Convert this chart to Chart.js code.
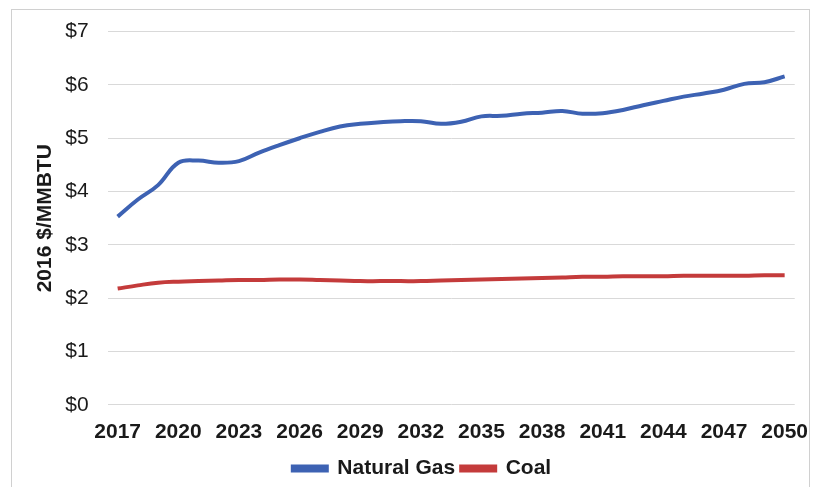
<!DOCTYPE html>
<html>
<head>
<meta charset="utf-8">
<script src="https://cdn.jsdelivr.net/npm/chart.js@4.4.0/dist/chart.umd.min.js"></script>
<style>
  html, body { margin: 0; padding: 0; background: #fff; }
  #frame { position: absolute; left: 11px; top: 9px; width: 797px; height: 490px; border: 1px solid #d0d0d0; }
  #wrap { position: absolute; left: 0; top: 0; width: 815px; height: 487px; }
</style>
</head>
<body>
<div id="frame"></div>
<div id="wrap"><canvas id="chart" width="815" height="487"></canvas></div>
<script>
const years = [];
for (let y = 2017; y <= 2050; y++) years.push(String(y));

const naturalGas = [
  3.53, 3.85, 4.12, 4.54, 4.58, 4.54, 4.57, 4.73, 4.87, 5.00,
  5.12, 5.22, 5.27, 5.30, 5.32, 5.32, 5.27, 5.31, 5.41, 5.42,
  5.46, 5.48, 5.51, 5.46, 5.47, 5.53, 5.62, 5.70, 5.78, 5.84,
  5.91, 6.02, 6.05, 6.16
];

const coal = [
  2.18, 2.24, 2.29, 2.31, 2.32, 2.33, 2.34, 2.34, 2.35, 2.35,
  2.34, 2.33, 2.32, 2.32, 2.32, 2.32, 2.33, 2.34, 2.35, 2.36,
  2.37, 2.38, 2.39, 2.40, 2.40, 2.41, 2.41, 2.41, 2.42, 2.42,
  2.42, 2.42, 2.43, 2.43
];

const blue = "#3d62b3";
const red = "#c43b3b";
const font = "Arial, 'Liberation Sans', sans-serif";

new Chart(document.getElementById("chart"), {
  type: "line",
  data: {
    labels: years,
    datasets: [
      {
        label: "Natural Gas",
        data: naturalGas,
        borderColor: blue,
        backgroundColor: blue,
        borderWidth: 4,
        pointRadius: 0,
        tension: 0.4,
      },
      {
        label: "Coal",
        data: coal,
        borderColor: red,
        backgroundColor: red,
        borderWidth: 4,
        pointRadius: 0,
        tension: 0.4,
      },
    ],
  },
  options: {
    responsive: false,
    animation: false,
    layout: { padding: { left: 29, right: 0, top: 25, bottom: -2 } },
    plugins: {
      tooltip: { enabled: false },
      legend: {
        position: "bottom",
        labels: {
          boxWidth: 34,
          boxHeight: 4,
          color: "#1a1a1a",
          font: { family: font, size: 21, weight: "bold" },
          padding: 6,
        },
      },
    },
    scales: {
      x: {
        offset: true,
        grid: { display: false },
        border: { display: false },
        ticks: {
          autoSkip: false,
          maxRotation: 0,
          padding: 7,
          color: "#1a1a1a",
          font: { family: font, size: 21, weight: "bold" },
          callback: function (v, i) { return i % 3 === 0 ? years[i] : ""; },
        },
      },
      y: {
        min: 0,
        max: 7,
        ticks: {
          stepSize: 1,
          color: "#1a1a1a",
          padding: 19,
          font: { family: font, size: 21 },
          callback: (v) => "$" + v,
        },
        grid: { color: "#d9d9d9", drawTicks: false },
        border: { display: false },
        title: {
          display: true,
          text: "2016 $/MMBTU",
          color: "#1a1a1a",
          padding: { top: 4, bottom: -12 },
          font: { family: font, size: 21, weight: "bold" },
        },
      },
    },
  },
});
</script>
</body>
</html>
